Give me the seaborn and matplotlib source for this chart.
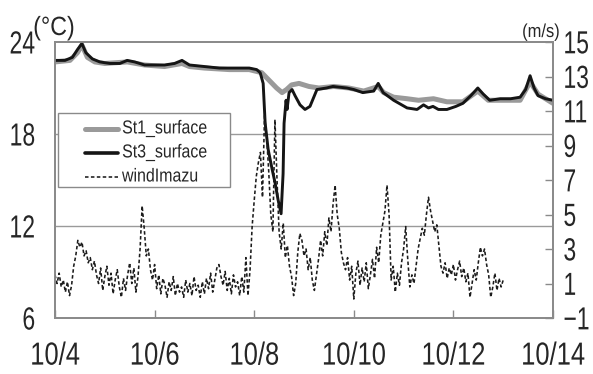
import numpy as np
import pandas as pd
import matplotlib
matplotlib.use("Agg")
import matplotlib.pyplot as plt
import seaborn as sns
from matplotlib.lines import Line2D
from matplotlib.patches import Rectangle
from matplotlib.patheffects import AbstractPathEffect
from matplotlib.transforms import Affine2D

sns.set_theme(style="white")
plt.rcParams["font.family"] = ["Liberation Sans Narrow", "Liberation Sans", "DejaVu Sans"]

# Water temperature (deg C), time given as day of October
st1_day = [4.0, 4.3, 4.45, 4.54, 4.65, 4.8, 5.0, 5.45, 5.8, 6.2, 6.55, 6.7, 7.0, 7.5, 7.9,
           8.15, 8.3, 8.45, 8.56, 8.65, 8.75, 8.9, 9.1, 9.3, 9.6, 9.9, 10.2, 10.49, 10.6,
           10.8, 11.07, 11.3, 11.6, 11.87, 12.19, 12.49, 12.7, 12.94, 13.34, 13.54, 13.7, 14.0]
st1_temp = [22.7, 22.8, 23.3, 23.8, 23.0, 22.7, 22.6, 22.7, 22.5, 22.4, 22.6, 22.4, 22.3, 22.2, 22.2,
            22.0, 21.5, 21.0, 20.7, 20.9, 21.2, 21.3, 21.1, 21.0, 21.1, 21.0, 20.8, 21.1, 20.7,
            20.4, 20.3, 20.2, 20.3, 20.1, 20.1, 20.8, 20.2, 20.2, 20.2, 21.4, 20.6, 20.0]

st3_day = [4.0, 4.2, 4.35, 4.45, 4.54, 4.62, 4.75, 4.9, 5.1, 5.3, 5.45, 5.6, 5.8, 6.0, 6.2,
           6.4, 6.55, 6.7, 7.0, 7.3, 7.6, 7.9, 8.05, 8.12, 8.18, 8.22, 8.28, 8.36, 8.42, 8.48,
           8.54, 8.58, 8.60, 8.64, 8.66, 8.70, 8.76, 8.82, 8.92, 9.02, 9.12, 9.26, 9.45, 9.58,
           9.86, 10.0, 10.18, 10.4, 10.49, 10.59, 10.8, 11.07, 11.27, 11.4, 11.5, 11.59, 11.7,
           11.87, 12.05, 12.19, 12.35, 12.49, 12.6, 12.73, 12.94, 13.15, 13.34, 13.45, 13.54,
           13.62, 13.7, 13.85, 14.0]
st3_temp = [22.8, 22.8, 23.0, 23.5, 23.9, 23.3, 22.9, 22.7, 22.6, 22.6, 22.8, 22.7, 22.5, 22.5, 22.5,
            22.6, 22.8, 22.5, 22.4, 22.3, 22.3, 22.3, 22.2, 22.0, 21.3, 18.7, 17.0, 15.7, 14.8, 13.7,
            12.8, 15.4, 18.7, 20.2, 19.6, 20.7, 20.9, 20.5, 19.9, 19.6, 19.8, 20.9, 21.0, 21.1,
            21.0, 20.9, 20.7, 20.8, 21.3, 20.7, 20.2, 19.7, 19.6, 19.9, 19.7, 19.8, 19.6,
            19.6, 19.8, 20.0, 20.5, 21.0, 20.6, 20.2, 20.3, 20.3, 20.4, 20.9, 21.8,
            21.0, 20.5, 20.3, 20.2]

# Hourly wind speed at Imazu (m/s), starting 10/4 00:00
wind_start_day = 4.0
wind_speed = [
    1.5, 1.0, 1.6, 0.8, 1.2, 0.5, 1.1, 0.3, 0.9, 2.0, 2.6,
    3.5, 3.1, 3.4, 2.6, 2.9, 2.2, 2.5, 1.8, 2.3, 1.5,
    1.0, 1.9, 0.6, 1.4, 2.0, 0.9, 1.6, 0.4, 1.2, 1.8,
    0.8, 0.2, 1.3, 0.6, 1.5, 2.2, 1.0, 1.9, 0.5, 1.4,
    3.0, 5.5, 4.2, 2.6,
    3.0, 1.8, 1.2, 2.1, 0.7, 1.5, 0.4, 1.3, 0.9, 0.2, 1.1, 0.6, 1.4, 0.3, 1.0, 0.5,
    0.8, 0.2, 1.2, 0.5, 1.0, 0.3, 1.4, 0.6, 0.9, 0.2,
    1.1, 0.4, 1.3, 0.7, 1.6, 0.5, 1.2, 1.9, 2.1, 1.4,
    0.9, 1.7, 0.6, 1.3, 0.4, 1.5, 0.8, 1.1, 0.3, 1.4,
    0.5, 2.5, 0.3, 1.8, 4.3, 5.8, 7.2, 8.0, 8.6,
    6.0, 10.8, 9.5, 7.5, 5.0, 4.0, 10.5, 7.0, 4.0, 3.0, 4.5, 2.5,
    3.2, 2.0, 1.4, 0.3, 1.0, 2.8, 3.9, 3.5, 2.6, 3.0, 1.8, 2.5, 1.2, 0.6, 1.5, 2.4,
    3.5, 2.6, 4.0, 3.2, 4.8, 4.0, 5.6, 6.7, 5.0, 4.2, 2.8, 2.2,
    1.8, 2.5, 1.2, 2.0, 0.1, 1.6, 2.3, 0.9, 1.9, 1.1, 2.2, 0.7, 1.5,
    2.4, 1.3, 3.1, 2.2, 3.8, 4.5, 5.2, 6.7, 5.0,
    1.2, 2.0, 0.5, 1.6, 0.9, 2.2, 3.0, 4.3, 2.4, 0.8, 1.5,
    1.0, 2.0, 3.0, 3.6, 4.2, 3.8, 5.0, 6.0, 5.2, 4.6, 4.0, 4.4, 3.2, 2.0,
    1.6, 2.2, 1.3, 1.9, 1.5, 2.1, 1.2, 1.8, 2.3, 1.4, 1.9, 1.1, 1.6,
    0.2, 1.0, 1.8, 1.2, 2.2, 3.1, 2.6, 3.0, 2.1, 1.5, 0.2, 0.8, 1.6, 0.6, 1.3, 0.8, 1.2,
]

x_ticks = [4, 6, 8, 10, 12, 14]
x_labels = ["10/4", "10/6", "10/8", "10/10", "10/12", "10/14"]
temp_ticks = [6, 12, 18, 24]
wind_ticks = [-1, 1, 3, 5, 7, 9, 11, 13, 15]
wind_labels = ["\u22121", "1", "3", "5", "7", "9", "11", "13", "15"]
series_names = ["St1_surface", "St3_surface", "windImazu"]

st1 = pd.DataFrame({"day": st1_day, "temp": st1_temp})
st3 = pd.DataFrame({"day": st3_day, "temp": st3_temp})
wind = pd.DataFrame({"day": wind_start_day + np.arange(len(wind_speed)) / 24.0,
                     "speed": wind_speed})

GRAY = "#9a9a9a"
FRAME = "#8a8a8a"
BLACK = "#151515"
WIND_DASH = (0, (2.2, 1.5))


class Reshape(AbstractPathEffect):
    """Draw text glyphs rescaled about a fixed side (narrow, tall lettering)."""

    def __init__(self, sx=0.75, sy=1.0, anchor="center"):
        super().__init__()
        self.sx = sx
        self.sy = sy
        self.anchor = anchor

    def draw_path(self, renderer, gc, tpath, affine, rgbFace=None):
        ext = tpath.get_extents()
        if self.anchor == "left":
            cx = ext.x0
        elif self.anchor == "right":
            cx = ext.x1
        else:
            cx = 0.5 * (ext.x0 + ext.x1)
        cy = 0.5 * (ext.y0 + ext.y1)
        squeeze = (Affine2D().translate(-cx, -cy)
                   .scale(self.sx, self.sy).translate(cx, cy))
        renderer.draw_path(gc, tpath, squeeze + affine, rgbFace)


W, H = 593, 374
fig = plt.figure(figsize=(W / 100, H / 100), dpi=100)
ax = fig.add_axes([55 / W, 1 - 318 / H, 498 / W, 276 / H])
ax2 = ax.twinx()

for y in (12, 18):
    ax.axhline(y, color=GRAY, lw=1.0, zorder=1)

sns.lineplot(data=st1, x="day", y="temp", ax=ax, color=GRAY, lw=3.6,
             estimator=None, sort=False, zorder=2)
sns.lineplot(data=st3, x="day", y="temp", ax=ax, color=BLACK, lw=2.1,
             estimator=None, sort=False, zorder=3)
sns.lineplot(data=wind, x="day", y="speed", ax=ax2, color="#1c1c1c", lw=1.15,
             linestyle=WIND_DASH, estimator=None, sort=False)

ax.set_xlim(4, 14)
ax.set_ylim(6, 24)
ax2.set_ylim(-1, 15)
ax.set_xlabel("")
ax.set_ylabel("")
ax2.set_ylabel("")

ax.set_xticks(x_ticks)
ax.set_xticklabels(x_labels)
ax.set_yticks(temp_ticks)
ax.set_yticklabels([str(t) for t in temp_ticks])
ax2.set_yticks(wind_ticks)
ax2.set_yticklabels(wind_labels)

ax.tick_params(axis="x", direction="in", length=6, width=1, color=FRAME,
               labelsize=23, pad=17, bottom=True)
ax.tick_params(axis="y", length=0, labelsize=23, pad=14)
# right labels are set small and stretched vertically when drawn
ax2.tick_params(axis="y", direction="in", length=6, width=1, color=FRAME,
                labelsize=17, pad=7.5, right=True)

for a in (ax, ax2):
    for sp in a.spines.values():
        sp.set_color(FRAME)
        sp.set_linewidth(1.3)

# unit captions
t_c = fig.text(33 / W, 1 - 35 / H, "(\u00b0C)", fontsize=19, ha="left", va="baseline")
t_ms = fig.text(522 / W, 1 - 37 / H, "(m/s)", fontsize=13.5, ha="left", va="baseline")
t_c.set_path_effects([Reshape(0.88, 1.0, "left")])
t_ms.set_path_effects([Reshape(0.88, 1.0, "left")])

# legend box, drawn in figure pixel coordinates
def px(x, y):
    return x / W, 1 - y / H

box = Rectangle(px(58, 187), 172 / W, 74 / H, transform=fig.transFigure,
                facecolor="white", edgecolor=FRAME, lw=1.0, zorder=10)
fig.add_artist(box)
key_styles = [dict(color=GRAY, lw=3.6), dict(color=BLACK, lw=2.6),
              dict(color="#1c1c1c", lw=1.15, linestyle=WIND_DASH)]
for row_y, name, style in zip([129, 153, 177], series_names, key_styles):
    x0, yy = px(85, row_y)
    x1, _ = px(118, row_y)
    fig.add_artist(Line2D([x0, x1], [yy, yy], transform=fig.transFigure, zorder=11, **style))
    txt = fig.text(*px(122, row_y), name, fontsize=13.5, ha="left", va="center", zorder=12)
    txt.set_path_effects([Reshape(0.85, 1.0, "left")])

fig.canvas.draw()
for lbl in ax.get_xticklabels():
    lbl.set_path_effects([Reshape(0.8, 1.0, "center")])
for lbl in ax.get_yticklabels():
    lbl.set_path_effects([Reshape(0.72, 1.0, "right")])
for lbl in ax2.get_yticklabels():
    lbl.set_path_effects([Reshape(0.97, 23 / 17, "left")])

fig.savefig("out.png", dpi=100)
